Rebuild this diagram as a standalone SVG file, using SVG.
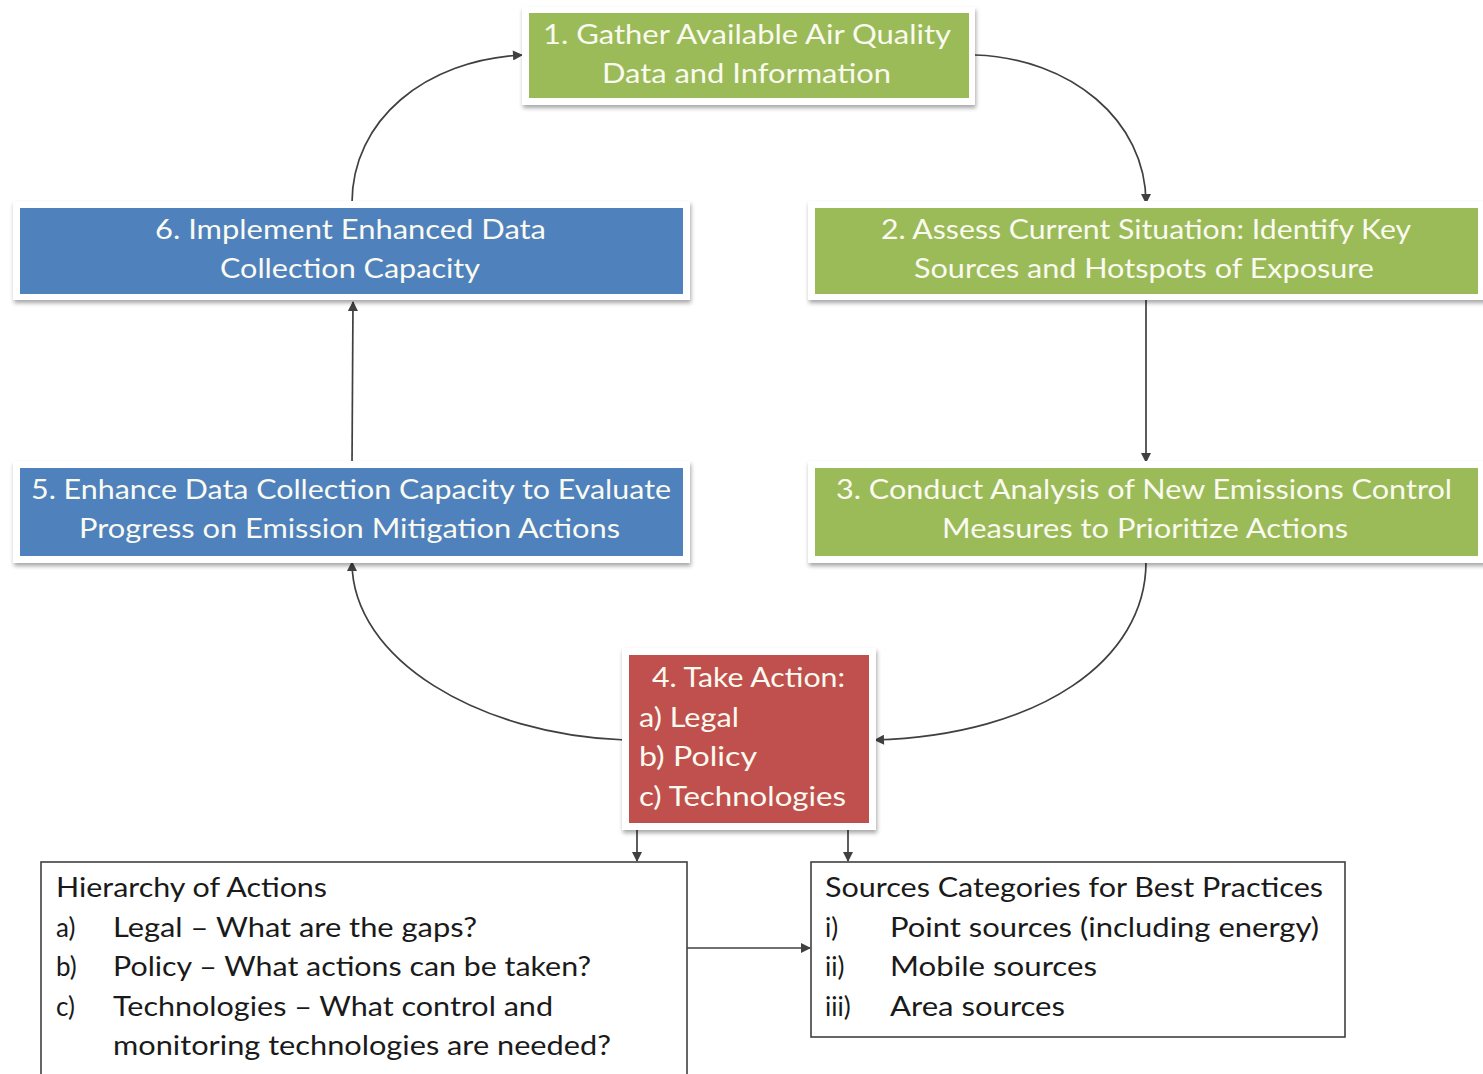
<svg xmlns="http://www.w3.org/2000/svg" width="1483" height="1074" viewBox="0 0 1483 1074">
<style>
.t{font-family:Lato,"Open Sans","Liberation Sans",sans-serif;font-size:26px}
.w{fill:#FAFAF0}
.k{fill:#1a1a1a}
.frame{fill:#ffffff;filter:url(#sh)}
.g{fill:#9BBB59}.b{fill:#4F81BD}.r{fill:#C0504D}
.plain{fill:#ffffff;stroke:#404040;stroke-width:1.6}
.c{fill:none;stroke:#404040;stroke-width:1.7}
</style>
<defs>
<filter id="sh" x="-10%" y="-20%" width="120%" height="150%">
<feDropShadow dx="1" dy="3" stdDeviation="2" flood-color="#000" flood-opacity="0.35"/>
</filter>
<marker id="ar" viewBox="0 0 10 10" refX="9" refY="5" markerWidth="11" markerHeight="10" markerUnits="userSpaceOnUse" orient="auto">
<path d="M0,0 L10,5 L0,10 z" fill="#404040"/>
</marker>
</defs>

<g id="connectors">
<path class="c" d="M352,203 C352,120 425,60 522,55" marker-end="url(#ar)"/>
<path class="c" d="M975,55 C1070,58 1146,120 1146,203" marker-end="url(#ar)"/>
<path class="c" d="M1146,298 L1146,462" marker-end="url(#ar)"/>
<path class="c" d="M1146,562 C1146,660 1040,735 875,740" marker-end="url(#ar)"/>
<path class="c" d="M625,740 C480,735 352,660 352,562" marker-end="url(#ar)"/>
<path class="c" d="M352,465 L353,302" marker-end="url(#ar)"/>
<path class="c" d="M637,830 L637,861" marker-end="url(#ar)"/>
<path class="c" d="M848,830 L848,861" marker-end="url(#ar)"/>
<path class="c" d="M687,948 L810,948" marker-end="url(#ar)"/>
</g>

<g id="node1">
<rect class="frame" x="522" y="7" width="453" height="98"/>
<rect class="g" x="529" y="13" width="440" height="85"/>
<text class="t w" x="543" y="44" textLength="408" lengthAdjust="spacingAndGlyphs">1. Gather  Available Air Quality</text>
<text class="t w" x="602" y="83" textLength="289" lengthAdjust="spacingAndGlyphs">Data and Information</text>
</g>

<g id="node2">
<rect class="frame" x="808" y="201" width="685" height="99"/>
<rect class="g" x="815" y="208" width="663" height="86"/>
<text class="t w" x="881" y="239" textLength="530" lengthAdjust="spacingAndGlyphs">2. Assess Current Situation: Identify Key</text>
<text class="t w" x="914" y="278" textLength="460" lengthAdjust="spacingAndGlyphs">Sources and Hotspots of Exposure</text>
</g>

<g id="node3">
<rect class="frame" x="808" y="461" width="685" height="102"/>
<rect class="g" x="815" y="468" width="663" height="88"/>
<text class="t w" x="836" y="499" textLength="616" lengthAdjust="spacingAndGlyphs">3. Conduct Analysis of New  Emissions Control</text>
<text class="t w" x="942" y="538" textLength="406" lengthAdjust="spacingAndGlyphs">Measures to Prioritize Actions</text>
</g>

<g id="node4">
<rect class="frame" x="622" y="648" width="254" height="182"/>
<rect class="r" x="629" y="655" width="240" height="168"/>
<text class="t w" x="652" y="687" textLength="193" lengthAdjust="spacingAndGlyphs">4. Take Action:</text>
<text class="t w" x="639" y="727" textLength="100" lengthAdjust="spacingAndGlyphs">a) Legal</text>
<text class="t w" x="639" y="766" textLength="118" lengthAdjust="spacingAndGlyphs">b) Policy</text>
<text class="t w" x="639" y="806" textLength="207" lengthAdjust="spacingAndGlyphs">c) Technologies</text>
</g>

<g id="node5">
<rect class="frame" x="13" y="461" width="677" height="102"/>
<rect class="b" x="20" y="468" width="663" height="88"/>
<text class="t w" x="31" y="499" textLength="640" lengthAdjust="spacingAndGlyphs">5. Enhance Data Collection Capacity to Evaluate</text>
<text class="t w" x="79" y="538" textLength="541" lengthAdjust="spacingAndGlyphs">Progress on Emission Mitigation Actions</text>
</g>

<g id="node6">
<rect class="frame" x="13" y="201" width="677" height="99"/>
<rect class="b" x="20" y="208" width="663" height="86"/>
<text class="t w" x="155" y="239" textLength="391" lengthAdjust="spacingAndGlyphs">6. Implement Enhanced  Data</text>
<text class="t w" x="220" y="278" textLength="260" lengthAdjust="spacingAndGlyphs">Collection Capacity</text>
</g>

<g id="hierarchy">
<rect class="plain" x="41" y="862" width="646" height="230"/>
<text class="t k" x="56" y="897" textLength="271" lengthAdjust="spacingAndGlyphs">Hierarchy of Actions</text>
<text class="t k" x="56" y="937">a)</text>
<text class="t k" x="113" y="937" textLength="364" lengthAdjust="spacingAndGlyphs">Legal – What are the  gaps?</text>
<text class="t k" x="56" y="976">b)</text>
<text class="t k" x="113" y="976" textLength="478" lengthAdjust="spacingAndGlyphs">Policy – What actions can be taken?</text>
<text class="t k" x="56" y="1016">c)</text>
<text class="t k" x="113" y="1016" textLength="440" lengthAdjust="spacingAndGlyphs">Technologies – What control and</text>
<text class="t k" x="113" y="1055" textLength="498" lengthAdjust="spacingAndGlyphs">monitoring technologies are needed?</text>
</g>

<g id="sources">
<rect class="plain" x="811" y="862" width="534" height="175"/>
<text class="t k" x="825" y="897" textLength="498" lengthAdjust="spacingAndGlyphs">Sources Categories for Best Practices</text>
<text class="t k" x="825" y="937">i)</text>
<text class="t k" x="890" y="937" textLength="429" lengthAdjust="spacingAndGlyphs">Point sources (including energy)</text>
<text class="t k" x="825" y="976">ii)</text>
<text class="t k" x="890" y="976" textLength="207" lengthAdjust="spacingAndGlyphs">Mobile sources</text>
<text class="t k" x="825" y="1016">iii)</text>
<text class="t k" x="890" y="1016" textLength="175" lengthAdjust="spacingAndGlyphs">Area sources</text>
</g>
</svg>
